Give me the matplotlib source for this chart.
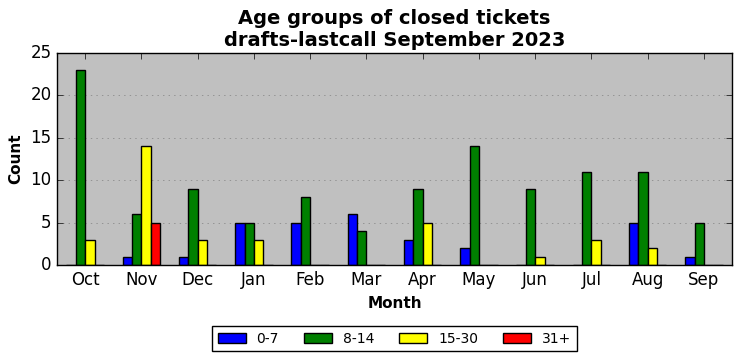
import matplotlib
matplotlib.use("Agg")
import matplotlib.pyplot as plt
import numpy as np

months = ["Oct", "Nov", "Dec", "Jan", "Feb", "Mar", "Apr", "May", "Jun", "Jul", "Aug", "Sep"]
age_0_7 = [0, 1, 1, 5, 5, 6, 3, 2, 0, 0, 5, 1]
age_8_14 = [23, 6, 9, 5, 8, 4, 9, 14, 9, 11, 11, 5]
age_15_30 = [3, 14, 3, 3, 0, 0, 5, 0, 1, 3, 2, 0]
age_31_plus = [0, 5, 0, 0, 0, 0, 0, 0, 0, 0, 0, 0]

series = [("0-7", age_0_7, "blue"), ("8-14", age_8_14, "green"),
          ("15-30", age_15_30, "yellow"), ("31+", age_31_plus, "red")]

plt.style.use("classic")
fig = plt.figure(figsize=(7.42, 3.61), dpi=100)
ax = fig.add_axes([57 / 742, 1 - 265 / 361, 675 / 742, 212 / 361])
ax.set_facecolor("silver")

x = np.arange(len(months))
w = 1 / 6
for i, (name, vals, col) in enumerate(series):
    ax.bar(x + (i - 1.5) * w, vals, w, color=col, edgecolor="black",
           linewidth=1, label=name, align="center")

ax.set_xlim(-0.5, len(months) - 0.5)
ax.set_ylim(0, 25)
ax.set_xticks(x)
ax.set_xticklabels(months)
ax.yaxis.grid(True, linestyle=":", color="gray")
ax.set_axisbelow(True)
ax.set_xlabel("Month", fontweight="bold", fontsize=11)
ax.set_ylabel("Count", fontweight="bold", fontsize=11)
ax.set_title("Age groups of closed tickets\ndrafts-lastcall September 2023",
             fontweight="bold", fontsize=14)
ax.legend(loc="upper center", bbox_to_anchor=(0.5, -0.255), ncol=4,
          fontsize=10, frameon=True, columnspacing=1.8)

fig.savefig("out.png", dpi=100)
